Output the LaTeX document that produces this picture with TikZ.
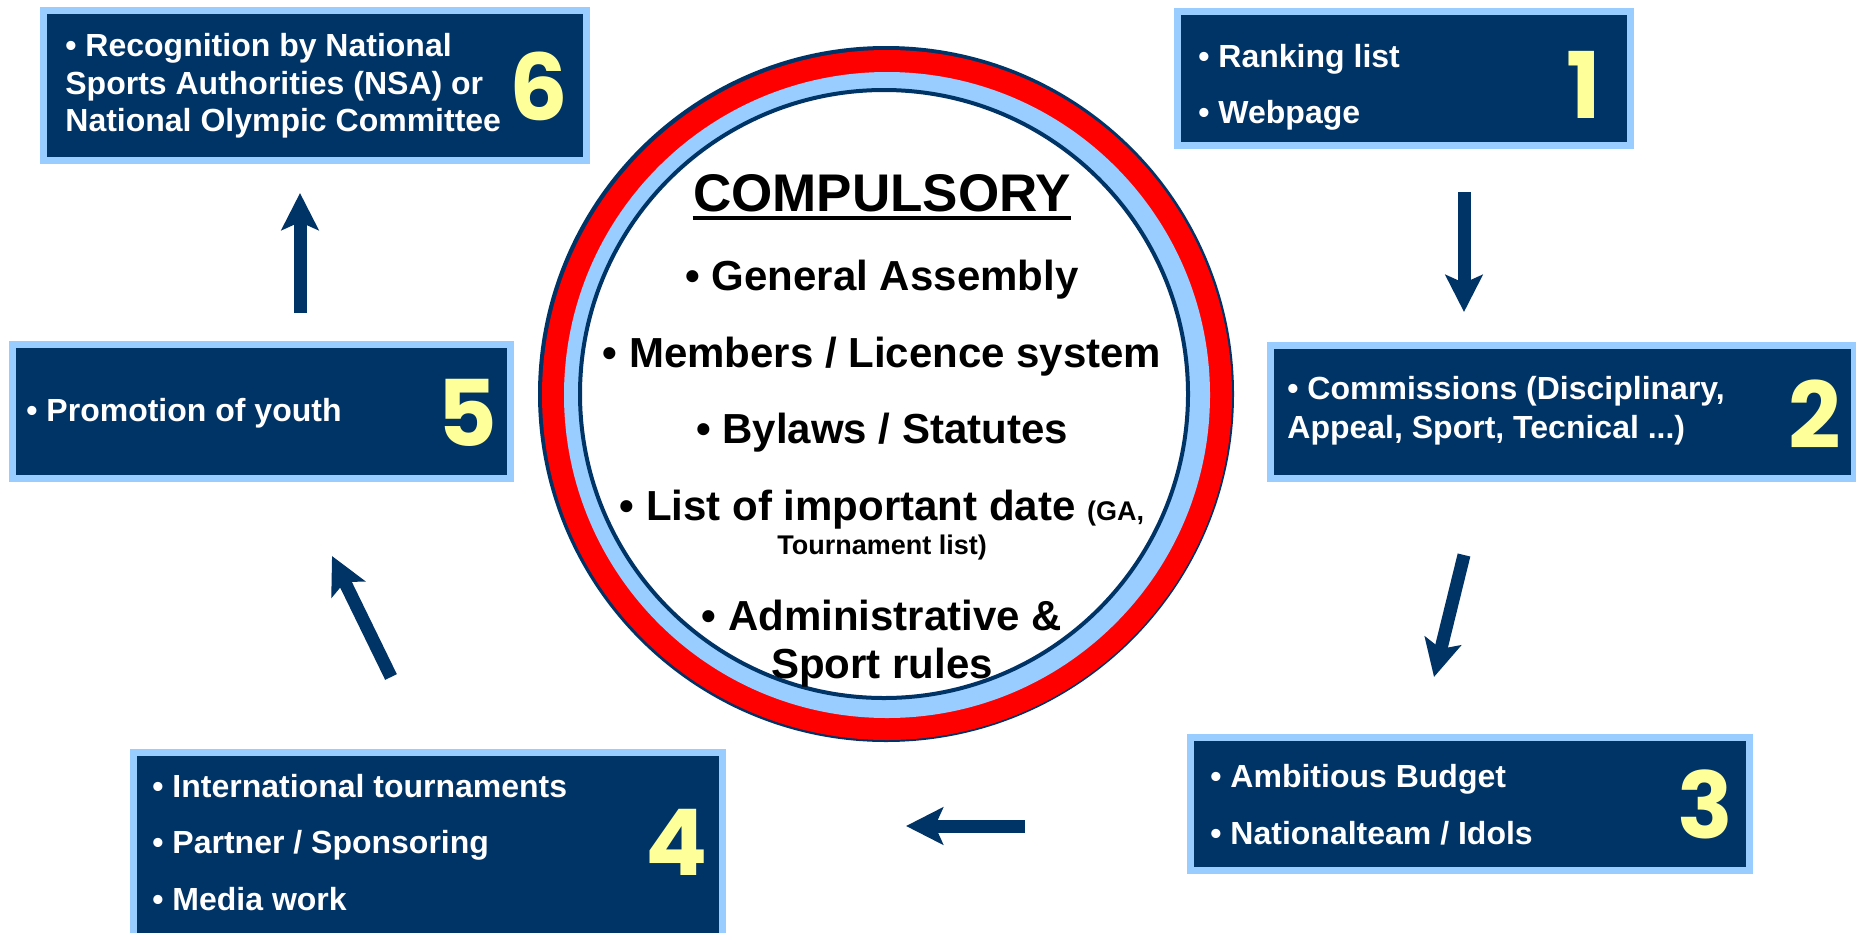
\documentclass[tikz,border=0pt]{standalone}
\usepackage{fontspec}
\setmainfont{Liberation Sans}
\newfontfamily\numfont{Poppins}
\usepackage{tikz}
\usetikzlibrary{arrows.meta}

\definecolor{navy}{HTML}{003366}
\definecolor{skyline}{HTML}{99CCFF}
\definecolor{digit}{HTML}{FFFF99}
\definecolor{ringred}{HTML}{FF0000}

\begin{document}
\begin{tikzpicture}[x=0.5pt,y=-0.5pt,
        panel/.style={draw=skyline,line width=3.5pt,fill=navy,inner sep=0pt},
        item/.style={anchor=base west,inner sep=0pt,text=white,font=\fontsize{16}{19}\selectfont\bfseries},
        num/.style={inner sep=0pt,text=digit,font=\fontsize{46}{46}\selectfont\numfont\bfseries},
        duty/.style={anchor=base,inner sep=0pt,font=\fontsize{21}{25}\selectfont\bfseries},
        flow/.style={draw=navy,line width=6.5pt,-{Stealth[length=18.5pt,width=18.5pt,inset=4pt]}}]
    \useasboundingbox (0,0) rectangle (1856,932);

    % rings in the middle
    \fill[navy] (886,394) circle (174pt);
    \fill[ringred] (887,395) circle (172.5pt);
    \fill[skyline] (887,395) circle (161.5pt);
    \filldraw[fill=white,draw=navy,line width=2pt] (884,394) circle (152pt);

    % the six boxes
    \node[panel,minimum width=226.5pt,minimum height=67pt] (b1) at (1404,78.5) {};
    \node[panel,minimum width=292pt,minimum height=66.5pt] (b2) at (1562.5,412) {};
    \node[panel,minimum width=279.5pt,minimum height=66.5pt] (b3) at (1470,804) {};
    \node[panel,minimum width=294.5pt,minimum height=98pt] (b4) at (428,850.5) {};
    \node[panel,minimum width=249pt,minimum height=67pt] (b5) at (261.5,411.5) {};
    \node[panel,minimum width=271.5pt,minimum height=75pt] (b6) at (315,85.5) {};

    % box texts
    \node[item] (t1a) at (1198,67) {• Ranking list};
    \node[item] (t1b) at (1198,123) {• Webpage};
    \node[item] (t2a) at (1287,399) {• Commissions (Disciplinary,};
    \node[item] (t2b) at (1287,438) {Appeal, Sport, Tecnical ...)};
    \node[item] (t3a) at (1210,787) {• Ambitious Budget};
    \node[item] (t3b) at (1210,844) {• Nationalteam / Idols};
    \node[item] (t4a) at (152,797) {• International tournaments};
    \node[item] (t4b) at (152,853) {• Partner / Sponsoring};
    \node[item] (t4c) at (152,910) {• Media work};
    \node[item] (t5a) at (26,421) {• Promotion of youth};
    \node[item] (t6a) at (65,56) {• Recognition by National};
    \node[item] (t6b) at (65,94) {Sports Authorities (NSA) or};
    \node[item] (t6c) at (65,131) {National Olympic Committee};

    % step numbers
    \node[num] (n1) at (1584,85) {1};
    \node[num] (n2) at (1815,414) {2};
    \node[num] (n3) at (1705,804) {3};
    \node[num] (n4) at (677,842) {4};
    \node[num] (n5) at (467,413) {5};
    \node[num] (n6) at (539,86) {6};

    % text in the circle
    \node[duty,font=\fontsize{26.5}{30}\selectfont\bfseries] (head) at (882,211) {COMPULSORY};
    \draw[line width=1.75pt] ([yshift=-3.5pt]head.base west) -- ([yshift=-3.5pt]head.base east);
    \node[duty] (d1) at (882,290) {• General Assembly};
    \node[duty] (d2) at (882,367) {• Members / Licence system};
    \node[duty] (d3) at (882,443) {• Bylaws / Statutes};
    \node[duty] (d4) at (882,520) {• List of important date {\fontsize{13.5}{15}\selectfont(GA,}};
    \node[duty,font=\fontsize{13.5}{15}\selectfont\bfseries] (d4b) at (882,554) {Tournament list)};
    \node[duty] (d5) at (882,630) {• Administrative \&};
    \node[duty] (d5b) at (882,678) {Sport rules};

    % arrows between the boxes
    \coordinate (p1) at (1464,192);
    \coordinate (q1) at (1464,312);
    \coordinate (p2) at (1464,555);
    \coordinate (q2) at (1434,677);
    \coordinate (p3) at (1025,826);
    \coordinate (q3) at (906,826);
    \coordinate (p4) at (391,677);
    \coordinate (q4) at (332,556);
    \coordinate (p5) at (300,313);
    \coordinate (q5) at (300,193);
    \draw[flow] (p1) -- (q1);
    \draw[flow] (p2) -- (q2);
    \draw[flow] (p3) -- (q3);
    \draw[flow] (p4) -- (q4);
    \draw[flow] (p5) -- (q5);
\end{tikzpicture}
\end{document}
